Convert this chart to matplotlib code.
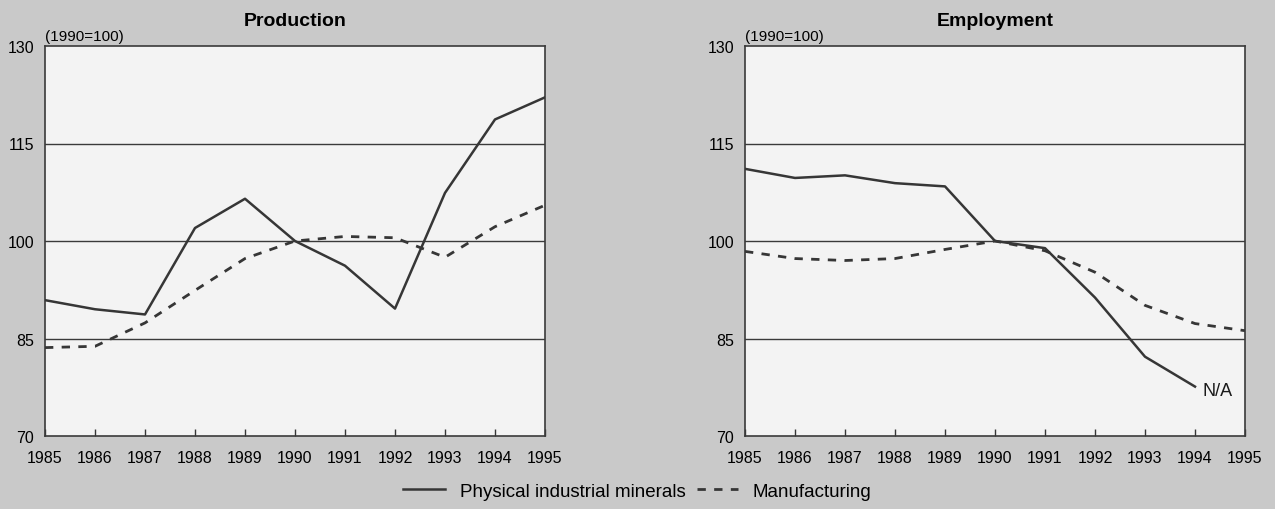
import matplotlib
matplotlib.use("Agg")
import matplotlib.pyplot as plt
from matplotlib.lines import Line2D

years = [1985, 1986, 1987, 1988, 1989, 1990, 1991, 1992, 1993, 1994, 1995]
prod_minerals = [90.9, 89.5, 88.7, 102.0, 106.5, 100.0, 96.2, 89.6, 107.4, 118.7, 122.1]
prod_manuf = [83.6, 83.8, 87.4, 92.4, 97.3, 100.0, 100.7, 100.5, 97.5, 102.2, 105.5]
emp_years = [1985, 1986, 1987, 1988, 1989, 1990, 1991, 1992, 1993, 1994]
emp_minerals = [111.1, 109.7, 110.1, 108.9, 108.4, 100.0, 98.9, 91.3, 82.2, 77.6]
emp_manuf = [98.4, 97.3, 97.0, 97.3, 98.7, 100.0, 98.5, 95.2, 90.1, 87.3, 86.2]
yticks = [70, 85, 100, 115, 130]
titles = ["Production", "Employment"]
unit_label = "(1990=100)"
legend_labels = ["Physical industrial minerals", "Manufacturing"]

bg = "#c9c9c9"
face = "#f3f3f3"
lc = "#363636"
plt.rcParams['font.family'] = ['Liberation Sans', 'DejaVu Sans']

fig = plt.figure(figsize=(12.75, 5.1), dpi=100, facecolor=bg)
axL = fig.add_axes([45/1275, 1-437/510, 500/1275, 390/510])
axR = fig.add_axes([745/1275, 1-437/510, 500/1275, 390/510])

panels = [
    (axL, years, prod_minerals, years, prod_manuf, titles[0]),
    (axR, emp_years, emp_minerals, years, emp_manuf, titles[1]),
]
for ax, xm, ym, xf, yf, title in panels:
    ax.set_facecolor(face)
    ax.set_xlim(1985, 1995)
    ax.set_ylim(70, 130)
    for y in [85, 100, 115]:
        ax.axhline(y, color="#3a3a3a", lw=1.0, zorder=1)
    ax.plot(xm, ym, color=lc, lw=1.8, zorder=3)
    ax.plot(xf, yf, color=lc, lw=2.0, ls=(0, (3, 3)), zorder=3)
    ax.set_xticks(years)
    ax.set_xticklabels([str(y) for y in years], fontsize=11.5)
    ax.set_yticks(yticks)
    ax.set_yticklabels([str(v) for v in yticks], fontsize=11.5)
    ax.tick_params(axis='x', direction='in', length=5, width=1, color=lc, pad=10)
    ax.tick_params(axis='y', length=0, pad=8)
    for s in ax.spines.values():
        s.set_color("#3a3a3a")
        s.set_linewidth(1.2)
    ax.text(0.0, 1.008, unit_label, transform=ax.transAxes, fontsize=11, ha='left', va='bottom')
    ax.set_title(title, fontsize=14, fontweight='bold', pad=15)

axR.text(1994.15, 77.0, "N/A", fontsize=13, ha='left', va='center', color="#1a1a1a")

handles = [Line2D([], [], color=lc, lw=1.8),
           Line2D([], [], color=lc, lw=2.0, ls=(0, (3, 3)))]
fig.legend(handles, legend_labels, loc='lower center', bbox_to_anchor=(0.5, -0.015),
           ncol=2, frameon=False, fontsize=13.5, handlelength=2.2, columnspacing=0.6,
           handletextpad=0.8)

fig.savefig("out.png", dpi=100, facecolor=bg)
